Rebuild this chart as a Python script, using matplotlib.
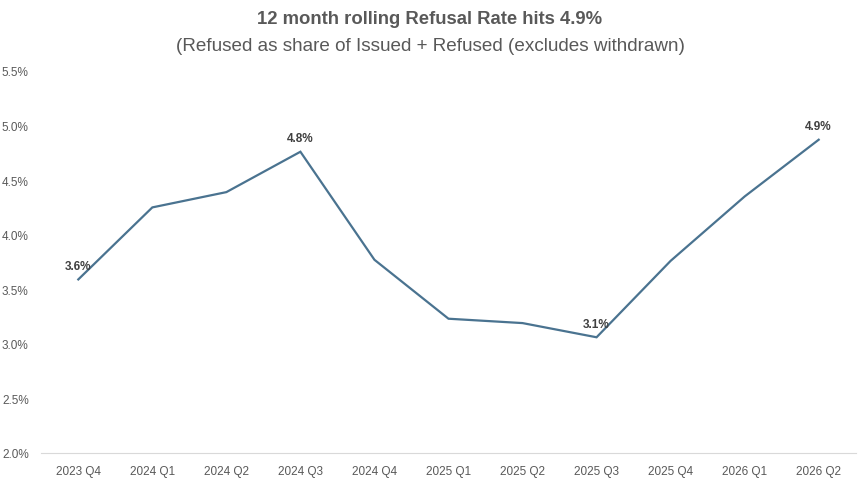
import matplotlib
matplotlib.use("Agg")
import matplotlib.pyplot as plt
from matplotlib.ticker import FuncFormatter

# data (percent)
quarters = ["2023 Q4", "2024 Q1", "2024 Q2", "2024 Q3", "2024 Q4", "2025 Q1",
            "2025 Q2", "2025 Q3", "2025 Q4", "2026 Q1", "2026 Q2"]
refusal_rate = [3.59, 4.25, 4.39, 4.76, 3.77, 3.23, 3.19, 3.06, 3.76, 4.35, 4.87]
labelled = [0, 3, 7, 10]  # points that carry a data label

plt.rcParams['font.family'] = ['Liberation Sans Narrow', 'Liberation Sans', 'DejaVu Sans']

fig = plt.figure(figsize=(8.6, 4.85), dpi=100)
ax = fig.add_axes([0.048, 0.064, 0.947, 0.7876])

x = list(range(len(quarters)))
ax.plot(x, refusal_rate, color="#4A7390", linewidth=1.6, solid_joinstyle="miter")

for i in labelled:
    ax.annotate(f"{refusal_rate[i]:.1f}%", (x[i], refusal_rate[i]),
                xytext=(0, 9.7), textcoords="offset points",
                ha="center", va="center", fontsize=8.5, fontweight="bold",
                color="#404040")

ax.set_xlim(-0.5, len(quarters) - 0.5)
ax.set_ylim(2.0, 5.5)
ax.set_yticks([2.0, 2.5, 3.0, 3.5, 4.0, 4.5, 5.0, 5.5])
ax.yaxis.set_major_formatter(FuncFormatter(lambda v, p: f"{v:.1f}%"))
ax.set_xticks(x)
ax.set_xticklabels(quarters)
ax.tick_params(axis="both", length=0, labelsize=8.5, labelcolor="#595959")
ax.tick_params(axis="x", pad=9)
ax.tick_params(axis="y", pad=9)

for side in ["top", "right", "left"]:
    ax.spines[side].set_visible(False)
ax.spines["bottom"].set_color("#D9D9D9")
ax.spines["bottom"].set_linewidth(0.8)

fig.text(0.5, 0.959, "12 month rolling Refusal Rate hits 4.9%", ha="center", va="center",
         fontsize=13.3, fontweight="bold", color="#595959")
fig.text(0.5, 0.905, "(Refused as share of Issued + Refused (excludes withdrawn)",
         ha="center", va="center", fontsize=13.6, color="#595959")

fig.savefig("out.png", dpi=100)
